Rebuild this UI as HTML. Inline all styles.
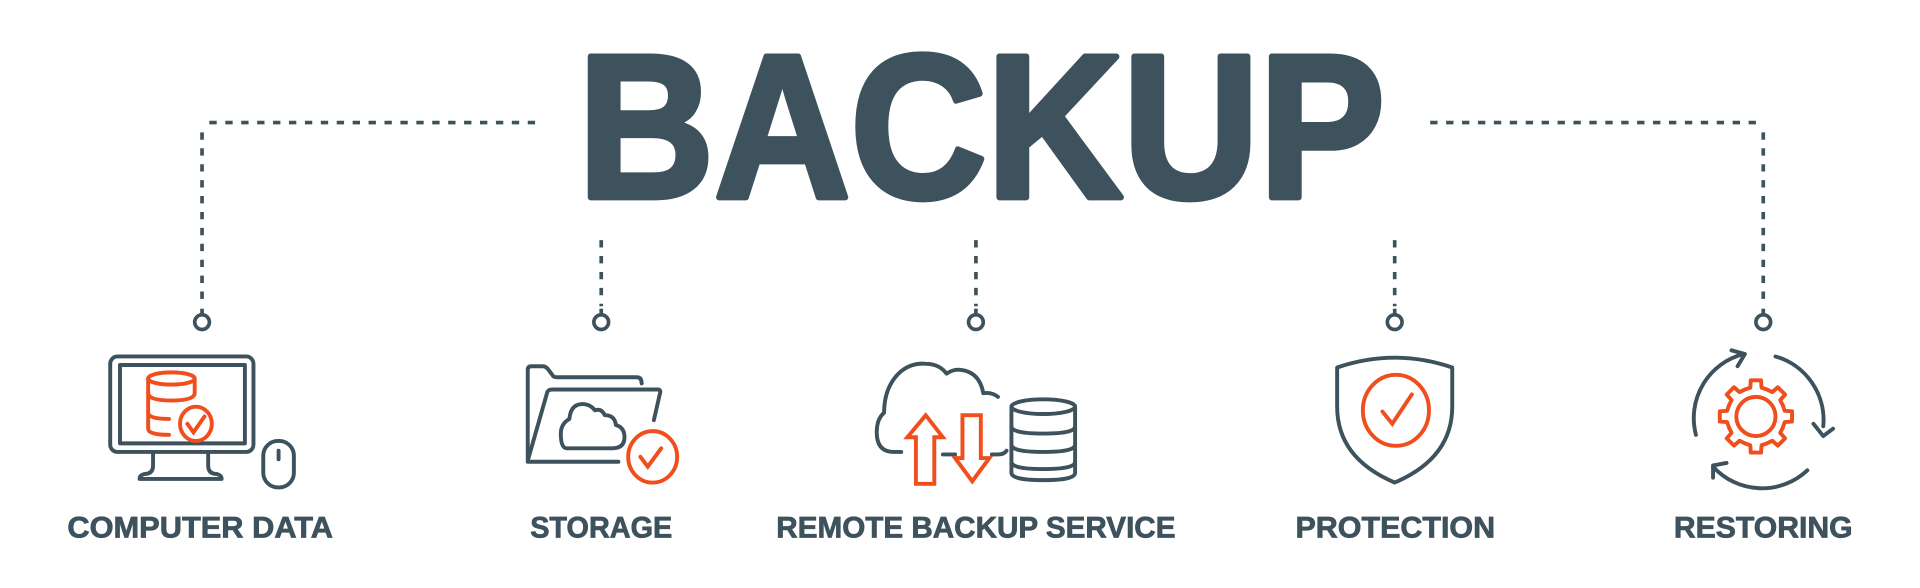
<!DOCTYPE html>
<html><head><meta charset="utf-8"><style>
html,body{margin:0;padding:0;background:#fff;}
svg{display:block;}
text{font-family:"Liberation Sans",sans-serif;font-weight:bold;fill:#3d525c;}
</style></head><body>
<svg width="1920" height="588" viewBox="0 0 1568 480" xmlns="http://www.w3.org/2000/svg">
<rect width="1568" height="480" fill="#fff"/>
<text x="472" y="161" font-size="167" textLength="659" lengthAdjust="spacingAndGlyphs" stroke="#3d525c" stroke-width="5" stroke-linejoin="round">BACKUP</text>

<g stroke="#3d525c" stroke-width="3" fill="none">
 <g stroke-dasharray="6 7">
  <line x1="437" y1="100" x2="167" y2="100"/>
  <line x1="165" y1="108" x2="165" y2="250"/>
  <line x1="1168" y1="100" x2="1438" y2="100"/>
  <line x1="1440" y1="108" x2="1440" y2="250"/>
  <line x1="491" y1="196" x2="491" y2="250"/>
  <line x1="797" y1="196" x2="797" y2="250"/>
  <line x1="1139" y1="196" x2="1139" y2="250"/>
 </g>
 <line x1="165" y1="252" x2="165" y2="257"/><circle cx="165" cy="263" r="6"/>
 <line x1="491" y1="252" x2="491" y2="257"/><circle cx="491" cy="263" r="6"/>
 <line x1="797" y1="252" x2="797" y2="257"/><circle cx="797" cy="263" r="6"/>
 <line x1="1139" y1="252" x2="1139" y2="257"/><circle cx="1139" cy="263" r="6"/>
 <line x1="1440" y1="252" x2="1440" y2="257"/><circle cx="1440" cy="263" r="6"/>
</g>

<g font-size="24" stroke="#3d525c" stroke-width="0.6">
 <text x="55" y="439" textLength="217" lengthAdjust="spacingAndGlyphs">COMPUTER DATA</text>
 <text x="433" y="439" textLength="116" lengthAdjust="spacingAndGlyphs">STORAGE</text>
 <text x="634" y="439" textLength="326" lengthAdjust="spacingAndGlyphs">REMOTE BACKUP SERVICE</text>
 <text x="1058" y="439" textLength="163" lengthAdjust="spacingAndGlyphs">PROTECTION</text>
 <text x="1367" y="439" textLength="146" lengthAdjust="spacingAndGlyphs">RESTORING</text>
</g>

<!-- Computer -->
<g stroke="#3d525c" stroke-width="3.2" fill="none" stroke-linecap="round" stroke-linejoin="round">
 <rect x="90" y="291" width="117" height="78" rx="6"/>
 <rect x="98" y="298" width="102" height="64"/>
 <path d="M125 369 V380 Q125 387 118 387 Q114 388 114 391 H181 Q181 388 177 387 Q170 387 170 380 V369"/>
 <rect x="215" y="360" width="25" height="38" rx="12"/>
 <line x1="227.5" y1="368" x2="227.5" y2="375"/>
</g>
<g stroke="#f04e1c" stroke-width="3.2" fill="none" stroke-linecap="round">
 <ellipse cx="140" cy="309" rx="19" ry="5"/>
 <path d="M121 309 V321 Q121 327 140 327 Q159 327 159 321 V309"/>
 <path d="M121 321 V337 Q121 342 138 342"/>
 <path d="M121 337 V350 Q121 355 138 355"/>
 <ellipse cx="160" cy="346" rx="13" ry="14"/>
 <path d="M153 346 L158 353 L167 340"/>
</g>

<!-- Storage -->
<g stroke="#3d525c" stroke-width="3.2" fill="none" stroke-linecap="round" stroke-linejoin="round">
 <path d="M431 375 V302 Q431 299 434 299 H443 Q446 299 448 302 L451 306 Q452 308 455 308 H520 Q524 308 524 313"/>
 <path d="M431 376 L447 320 Q448 318 451 318 H537 Q540 318 539 321 L534 343"/>
 <path d="M431 377 H505"/>
 <path d="M463 366 H500 Q510 366 510 357 Q510 349 503 347 Q502 339 494 339 Q491 333 486 335 Q481 329 474 330 Q466 331 465 342 Q458 346 458 354 Q458 366 463 366 Z"/>
</g>
<g stroke="#f04e1c" stroke-width="3.2" fill="none" stroke-linecap="round">
 <ellipse cx="533" cy="373" rx="20" ry="21"/>
 <path d="M523 373 L529 381 L540 366"/>
</g>

<!-- Remote -->
<g stroke="#3d525c" stroke-width="3.2" fill="none" stroke-linecap="round" stroke-linejoin="round">
 <path d="M736 369 H730 Q716 369 716 353 Q716 342 722 337 Q722 315 736 303 Q745 296 756 297 Q767 297 773 305 Q779 301 785 302 Q800 304 803 321 Q810 320 815 324"/>
 <path d="M770 371 H780 M810 371 H815 Q820 371 822 368"/>
 <ellipse cx="852" cy="332" rx="26" ry="6"/>
 <path d="M826 332 V386 Q826 392 852 392 Q878 392 878 386 V332"/>
 <path d="M826 348 Q826 354 852 354 Q878 354 878 348"/>
 <path d="M826 363 Q826 369 852 369 Q878 369 878 363"/>
 <path d="M826 377 Q826 383 852 383 Q878 383 878 377"/>
</g>
<g stroke="#f04e1c" stroke-width="3.2" fill="none" stroke-linejoin="miter">
 <path d="M748 395 V357 H741 L756 339 L770 357 H763 V395 Z"/>
 <path d="M786 339 V374 H780 L794 393 L808 374 H801 V339 Z"/>
</g>

<!-- Protection -->
<g stroke="#3d525c" stroke-width="3.2" fill="none" stroke-linejoin="round">
 <path d="M1092 300 Q1139 284 1186 300 V332 Q1186 374 1139 394 Q1092 374 1092 332 Z"/>
</g>
<g stroke="#f04e1c" stroke-width="3.2" fill="none" stroke-linecap="round">
 <ellipse cx="1140" cy="335" rx="27" ry="29"/>
 <path d="M1129 336 L1137 346 L1153 322"/>
</g>

<!-- Restoring -->
<g stroke="#3d525c" stroke-width="3.2" fill="none" stroke-linecap="round" stroke-linejoin="round">
 <path d="M1385 355 A54 54 0 0 1 1424 289"/>
 <path d="M1414 286 L1425 289 L1419 299"/>
 <path d="M1450 291 A54 54 0 0 1 1489 348"/>
 <path d="M1481 346 L1489 356 L1497 350"/>
 <path d="M1476 384 A54 54 0 0 1 1399 381"/>
 <path d="M1399 390 L1399 380 L1410 378"/>
</g>
<g stroke="#f04e1c" stroke-width="3.2" fill="none" stroke-linecap="round" stroke-linejoin="round" transform="translate(1434 340)">
 <circle r="16" cx="0" cy="0"/>
 <g id="t"><path d="M-9 -22 L-4.6 -23.5 L-4.2 -29.5 H4.2 L4.6 -23.5 L9 -22"/></g>
 <use href="#t" transform="rotate(45)"/>
 <use href="#t" transform="rotate(90)"/>
 <use href="#t" transform="rotate(135)"/>
 <use href="#t" transform="rotate(180)"/>
 <use href="#t" transform="rotate(225)"/>
 <use href="#t" transform="rotate(270)"/>
 <use href="#t" transform="rotate(315)"/>
</g>
</svg>
</body></html>
